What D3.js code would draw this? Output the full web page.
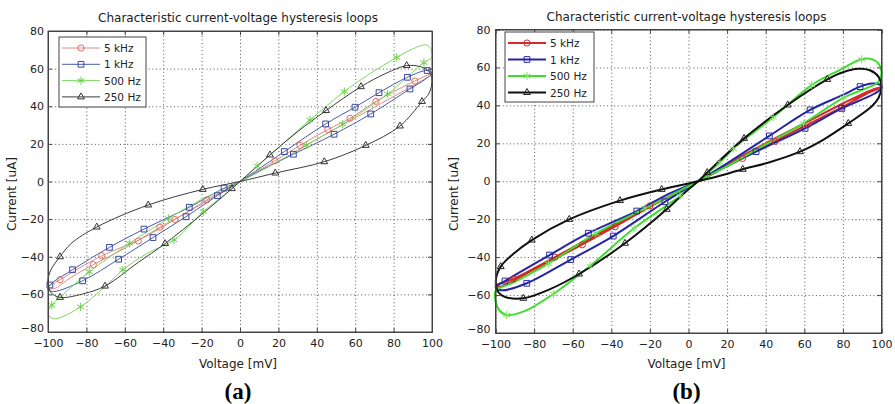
<!DOCTYPE html>
<html>
<head>
<meta charset="utf-8">
<script src="https://cdn.jsdelivr.net/npm/d3@7"></script>
<style>
  body { margin: 0; background: #fff; }
  svg text { font-family: "DejaVu Sans", Arial, sans-serif; fill: #222; }
</style>
</head>
<body>
<div id="chart-area"></div>
<script>

// ---- data (voltage mV, current uA) ----

let seriesNames = ["5 kHz", "1 kHz", "500 Hz", "250 Hz"];
let xTicks = [-100, -80, -60, -40, -20, 0, 20, 40, 60, 80, 100];
let yTicks = [-80, -60, -40, -20, 0, 20, 40, 60, 80];

// panel (a) loops
let a5k = [[0,0],[18.2,11],[31.25,19.2],[45.7,27.6],[57.3,33.6],[70.8,42.6],[91.1,53.4],[100,57.5],[97,55],[85,48],[70,39.5],[55,31],[40,22.5],[25,13.5],[10,5.5],
  [0,0],[-17.4,-9.8],[-33.9,-20.2],[-52.4,-31],[-72,-39.5],[-93.75,-52.2],[-100,-56.5],[-97,-57],[-88,-51],[-76.4,-44.2],[-60,-35.5],[-41.7,-24.3],[-25,-15],[-10,-6]];
let a1k = [[0,0],[23.1,15.9],[44.6,30.6],[59.9,39.5],[72.4,47.2],[87.2,55.4],[97.5,59],[100,57.5],[96,54],[88.5,49.2],[68.1,35.9],[49,25.1],[27.8,14.5],[12,6.5],
  [0,0],[-8.3,-3.5],[-26.4,-13.7],[-50,-25.3],[-68,-35],[-87.2,-46.9],[-99,-55],[-100,-57.5],[-97,-58.5],[-82,-52.8],[-63.2,-41.3],[-45.3,-29.8],[-28.1,-18.7],[-11.8,-7.5]];
let a500 = [[0,0],[9,8.2],[20,18],[36.5,32.7],[54.3,47.8],[68,57.5],[81.6,65.9],[90,70.5],[97.2,72.6],[99.7,70],[100,66],[98,64.5],[95.8,63.2],[86,54.5],[76.9,46.5],[65,38],[53.5,30.4],[34.7,19.4],[17,9],
  [0,0],[-20,-9.5],[-37.3,-19.7],[-57.6,-32.9],[-78.5,-48],[-92,-60],[-98,-65.7],[-100,-69.5],[-99,-72],[-96,-73],[-83,-66.6],[-72,-57.5],[-61,-47],[-48,-38],[-34.4,-31.1],[-19.1,-16],[-8,-7]];
let a250 = [[0,0],[15.6,14.1],[30,26.5],[44.8,37.7],[63,50.4],[76,57.5],[86.8,61.6],[94,61],[98.5,58.5],[100,54],[98.5,47],[94.8,42.5],[83.3,29.5],[65.5,19.2],[43.9,10.5],[18.4,4.5],
  [0,0],[-19.4,-4.2],[-47.8,-12.5],[-74.6,-24.2],[-88,-33],[-93.75,-40],[-98.5,-47],[-100,-53],[-98.5,-59],[-93.75,-61.6],[-82,-59.8],[-70.3,-55.6],[-53,-43],[-39,-33],[-20,-17.5],[-4.2,-3.8]];

// panel (a) marker points
let a5kMarks = [[91.1,53.4],[70.8,42.6],[57.3,33.6],[45.7,27.6],[31.25,19.2],[18.2,11],[-17.4,-9.8],[-33.9,-20.2],[-41.7,-24.3],[-53,-31.6],[-72,-39.5],[-76.4,-44.2],[-93.75,-52.2]];
let a1kMarks = [[87.2,55.4],[72.4,47.2],[59.9,39.5],[44.6,30.6],[97.5,59],[88.5,49.2],[68.1,35.9],[49,25.1],[23.1,15.9],[27.8,14.5],[-8.3,-3.5],[-11.8,-7.5],[-26.4,-13.7],[-28.1,-18.7],[-50,-25.3],[-45.3,-29.8],[-68,-35],[-63.2,-41.3],[-87.2,-46.9],[-82,-52.8],[-99,-55]];
let a500Marks = [[81.6,65.9],[95.8,63.2],[54.3,47.8],[36.5,32.7],[76.9,46.5],[53.5,30.4],[9,8.2],[34.7,19.4],[-19.1,-16],[-34.4,-31.1],[-37.3,-19.7],[-57.6,-32.9],[-78.5,-48],[-98,-65.7],[-83,-66.6],[-61,-47]];
let a250Marks = [[86.8,61.6],[63,50.4],[44.8,37.7],[94.8,42.5],[83.3,29.5],[65.5,19.2],[15.6,14.1],[18.4,4.5],[43.9,10.5],[-19.4,-4.2],[-4.2,-3.8],[-47.8,-12.5],[-74.6,-24.2],[-93.75,-40],[-39,-33],[-70.3,-55.6],[-93.75,-61.6]];

// panel (b) loops
let b5k = [[5,0],[20,8],[40,18.5],[60,29],[79.4,39],[92,46],[100,49.5],[96,48.5],[80,41],[60,30.5],[40,20],[20,9],
  [5,0],[-20,-13],[-45,-26.5],[-69.2,-40],[-90.8,-51.5],[-100,-55],[-97,-55.5],[-80,-46.5],[-60,-36],[-40,-25],[-20,-13.5]];
let b1k = [[5,0],[20,9.5],[41.9,23.9],[63,37.6],[80,45.5],[88.9,49.9],[95,51.5],[99,51],[100,49],[96,46],[79.4,38.4],[60.4,27.9],[35,15.6],[18,7],
  [5,0],[-10,-6.5],[-26.8,-15.7],[-51.9,-27.4],[-72,-38.9],[-95.1,-52.6],[-100,-56],[-97,-57.5],[-83.8,-53.8],[-61,-41.3],[-39,-28.9],[-12.2,-10.8]];
let b500 = [[5,0],[16.3,10],[23.2,17.3],[43.9,33.7],[63.8,50.7],[78,58.5],[89.7,64.3],[95,64.3],[98.5,62],[100,57],[98,52],[92,49],[80.2,44],[59.5,30.5],[40,19.5],[20,8],
  [5,0],[-22.5,-14.3],[-48,-27.5],[-72.6,-43.4],[-90,-53],[-100,-58],[-100,-63],[-98,-68],[-94.2,-70.5],[-85,-68.5],[-70,-59.4],[-51,-44.7],[-28.2,-24.8],[-4.4,-7.8]];
let b250 = [[5,0],[9.7,4.6],[28.8,22.6],[51.4,40.2],[71.9,53.7],[80,57.5],[88,59.3],[94,58.5],[98.5,55],[100,50],[98.5,44],[95,39.5],[82.8,30.5],[70,22],[57.8,15.6],[42,10],[28.1,6.3],[15,2.5],
  [5,0],[-13.9,-4.3],[-35.5,-10.2],[-61.8,-20.1],[-81.2,-31],[-91,-38.5],[-97.3,-45],[-99.8,-52],[-98.5,-58.5],[-95,-61],[-85.6,-61.7],[-72,-57],[-56.7,-48.9],[-32.9,-32.7],[-11.3,-14.8],[-2,-6]];

// panel (b) marker points
let b5kMarks = [[79.4,39],[62,30],[45,21],[28,12],[-20,-13],[-38,-24],[-55,-33.5],[-69.2,-40],[-90.8,-51.5]];
let b1kMarks = [[88.9,49.9],[63,37.6],[41.9,23.9],[79.4,38.4],[60.4,27.9],[35,15.6],[-26.8,-15.7],[-51.9,-27.4],[-72,-38.9],[-95.1,-52.6],[-12.2,-10.8],[-39,-28.9],[-61,-41.3],[-83.8,-53.8]];
let b500Marks = [[89.7,64.3],[63.8,50.7],[43.9,33.7],[23.2,17.3],[80.2,44],[59.5,30.5],[16.3,10],[-22.5,-14.3],[-72.6,-43.4],[-48,-27.5],[-28.2,-24.8],[-51,-44.7],[-70,-59.4],[-94.2,-70.5],[-4.4,-7.8]];
let b250Marks = [[71.9,53.7],[51.4,40.2],[28.8,22.6],[9.7,4.6],[82.8,30.5],[57.8,15.6],[28.1,6.3],[-13.9,-4.3],[-35.5,-10.2],[-61.8,-20.1],[-81.2,-31],[-97.3,-45],[-85.6,-61.7],[-56.7,-48.9],[-32.9,-32.7],[-11.3,-14.8]];


/////////////////////////
// SVG
/////////////////////////

let svg = d3.select("#chart-area").append("svg")
	.attr("width", 895)
	.attr("height", 404);

let symbols = [d3.symbolCircle, d3.symbolSquare2, d3.symbolAsterisk, d3.symbolTriangle2];
let symSize = [30, 42, 46, 34];
let fontSans = "'DejaVu Sans', Arial, sans-serif";

function drawPanel(p) {

	let x = d3.scaleLinear().domain([-100, 100]).range([p.left, p.right]);
	let y = d3.scaleLinear().domain([-80, 80]).range([p.bottom, p.top]);
	let w = p.right - p.left, h = p.bottom - p.top;

	let g = svg.append("g");

	// dotted grid
	g.append("g")
		.attr("transform", "translate(0," + p.bottom + ")")
		.call(d3.axisBottom(x).tickValues(xTicks).tickSize(-h).tickFormat(""))
		.call(a => a.select(".domain").remove())
		.selectAll("line").attr("stroke", "#555").attr("stroke-dasharray", "1,2.6");
	g.append("g")
		.attr("transform", "translate(" + p.left + ",0)")
		.call(d3.axisLeft(y).tickValues(yTicks).tickSize(-w).tickFormat(""))
		.call(a => a.select(".domain").remove())
		.selectAll("line").attr("stroke", "#555").attr("stroke-dasharray", "1,2.6");

	// loops
	let line = d3.line()
		.x(d => x(d[0]))
		.y(d => y(d[1]))
		.curve(d3.curveCatmullRomClosed.alpha(0.5));

	p.loops.forEach((loop, i) => {
		g.append("path")
			.datum(loop)
			.attr("d", line)
			.attr("fill", "none")
			.attr("stroke", p.colors[i])
			.attr("stroke-width", p.lw);
	});
	p.marks.forEach((pts, i) => {
		g.selectAll(null)
			.data(pts)
			.enter().append("path")
			.attr("d", d3.symbol().type(symbols[i]).size(symSize[i]))
			.attr("transform", d => "translate(" + x(d[0]) + "," + y(d[1]) + ")")
			.attr("fill", "none")
			.attr("stroke", p.markColors[i])
			.attr("stroke-width", 1);
	});

	// axes, MATLAB style (ticks inward, box)
	g.append("g")
		.attr("transform", "translate(0," + p.bottom + ")")
		.call(d3.axisBottom(x).tickValues(xTicks).tickSize(-4).tickPadding(7));
	let leftAxis = g.append("g")
		.attr("transform", "translate(" + p.left + ",0)")
		.call(d3.axisLeft(y).tickValues(yTicks).tickSize(-4).tickPadding(p.pad));
	// lowest label sits just above the "-100" of the x axis, as in the figure
	leftAxis.selectAll(".tick text").filter(d => d === -80).attr("dy", "-0.05em");
	g.append("g")
		.attr("transform", "translate(0," + p.top + ")")
		.call(d3.axisTop(x).tickValues(xTicks).tickSize(-4).tickFormat(""));
	g.append("g")
		.attr("transform", "translate(" + p.right + ",0)")
		.call(d3.axisRight(y).tickValues(yTicks).tickSize(-4).tickFormat(""));
	g.selectAll(".domain").attr("stroke", "#444");
	g.selectAll(".tick line").filter(function() { return !this.getAttribute("stroke-dasharray"); })
		.attr("stroke", "#444");
	g.selectAll(".tick text").attr("font-size", 11).attr("fill", "#222")
		.attr("font-family", fontSans);

	g.append("rect")
		.attr("x", p.left).attr("y", p.top)
		.attr("width", w).attr("height", h)
		.attr("fill", "none").attr("stroke", "#444");

	// titles
	g.append("text")
		.attr("x", (p.left + p.right) / 2 - 2).attr("y", p.top - 9)
		.attr("text-anchor", "middle").attr("font-size", 12)
		.text("Characteristic current-voltage hysteresis loops");
	g.append("text")
		.attr("x", (p.left + p.right) / 2 - 2).attr("y", 368)
		.attr("text-anchor", "middle").attr("font-size", 12)
		.text("Voltage [mV]");
	g.append("text")
		.attr("transform", "translate(" + p.ylabX + "," + 194 + ") rotate(-90)")
		.attr("text-anchor", "middle").attr("font-size", 12)
		.text("Current [uA]");
	g.append("text")
		.attr("x", (p.left + p.right) / 2 - 2).attr("y", 399)
		.attr("text-anchor", "middle").attr("font-size", 23)
		.attr("font-weight", "bold")
		.style("font-family", "'Liberation Serif', 'Times New Roman', serif")
		.style("fill", "#000")
		.text(p.tag);

	// legend
	let lg = g.append("g").attr("transform", "translate(" + p.legX + "," + p.legY + ")");
	lg.append("rect")
		.attr("width", p.legW).attr("height", p.legH)
		.attr("fill", "#fff").attr("stroke", "#444");
	seriesNames.forEach((name, i) => {
		let yy = p.legRow0 + i * p.legStep;
		lg.append("line")
			.attr("x1", 3).attr("x2", 41).attr("y1", yy).attr("y2", yy)
			.attr("stroke", p.colors[i]).attr("stroke-width", p.lw);
		lg.append("path")
			.attr("d", d3.symbol().type(symbols[i]).size(symSize[i]))
			.attr("transform", "translate(22," + yy + ")")
			.attr("fill", "none").attr("stroke", p.markColors[i]);
		lg.append("text")
			.attr("x", 45).attr("y", yy + 4)
			.attr("font-size", 10.5)
			.text(name);
	});
}

drawPanel({
	left: 48, right: 432, top: 31, bottom: 332, pad: 4, ylabX: 16, tag: "(a)", lw: 1,
	loops: [a5k, a1k, a500, a250],
	marks: [a5kMarks, a1kMarks, a500Marks, a250Marks],
	colors: ["#d98c84", "#4a5aa8", "#7fd862", "#3a3a3a"],
	markColors: ["#e07060", "#3848a0", "#66d044", "#333"],
	legX: 59, legY: 37, legW: 87, legH: 70, legRow0: 11, legStep: 16.3
});

drawPanel({
	left: 495.5, right: 881.5, top: 29.5, bottom: 333, pad: 5, ylabX: 458, tag: "(b)", lw: 2,
	loops: [b5k, b1k, b500, b250],
	marks: [b5kMarks, b1kMarks, b500Marks, b250Marks],
	colors: ["#d42a2a", "#2424a8", "#3ede2e", "#111"],
	markColors: ["#c83030", "#2a2aa0", "#80e060", "#222"],
	legX: 505, legY: 32, legW: 89, legH: 70, legRow0: 11, legStep: 16.5
});

</script>
</body>
</html>
